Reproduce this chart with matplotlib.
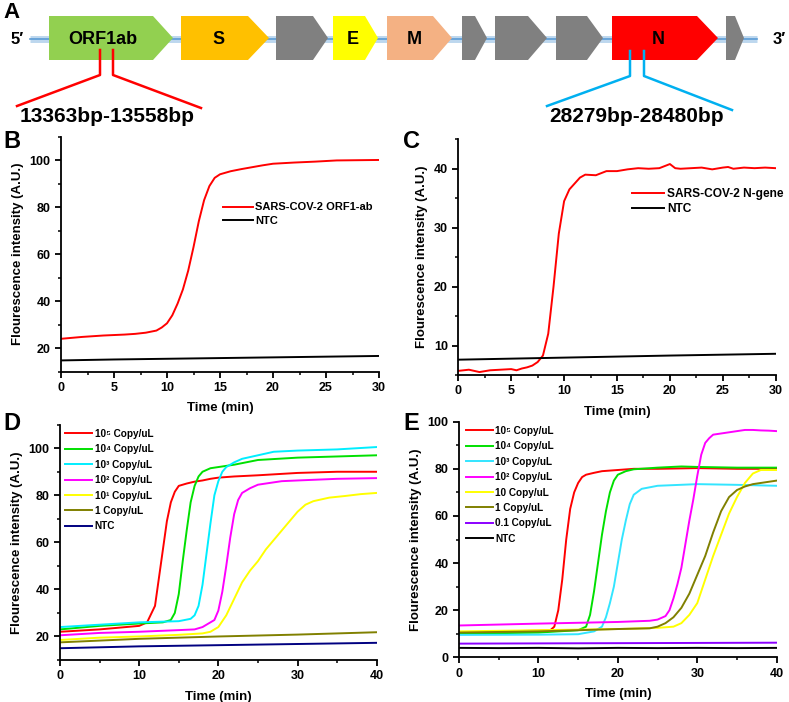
import numpy as np
import matplotlib.pyplot as plt
from matplotlib.patches import Polygon
from matplotlib.ticker import MultipleLocator

plt.rcParams['font.family'] = ['Liberation Sans', 'DejaVu Sans']
plt.rcParams['font.weight'] = 'bold'

# ---- panel A: genome map (x in px along the strip) ----
gene_names = ['ORF1ab', 'S', '', 'E', 'M', '', '', '', 'N', '']
gene_start = [49, 181, 276, 333, 387, 462, 495, 556, 612, 726]
gene_body = [153, 248, 313, 365, 433, 475, 528, 587, 697, 735]
gene_end = [173, 269, 328, 378, 452, 487, 547, 603, 718, 744]
gene_colors = ['#92D050', '#FFC000', '#808080', '#FFFF00', '#F4B183',
               '#808080', '#808080', '#808080', '#FF0000', '#808080']
orf_region = '13363bp-13558bp'
n_region = '28279bp-28480bp'

# ---- panel B ----
tB = [0, 1, 2, 3, 4, 5, 6, 7, 8, 9, 9.5, 10, 10.5, 11, 11.5, 12, 12.5, 13, 13.5,
      14, 14.5, 15, 16, 17, 18, 19, 20, 22, 24, 26, 28, 30]
orf1ab = [24, 24.4, 24.8, 25.1, 25.4, 25.6, 25.8, 26.1, 26.6, 27.5, 28.8, 30.6, 34,
          39, 45, 53, 63, 74, 83, 89, 92.5, 94, 95.3, 96.2, 97, 97.8, 98.5, 99,
          99.4, 99.9, 100, 100.1]
tB_ntc = [0, 5, 10, 15, 20, 25, 30]
ntcB = [14.8, 15.2, 15.5, 15.8, 16.1, 16.4, 16.7]

# ---- panel C ----
tC = [0, 1, 2, 3, 4, 5, 5.5, 6, 6.5, 7, 7.5, 8, 8.5, 9, 9.5, 10, 10.5, 11, 11.5,
      12, 13, 14, 15, 16, 17, 18, 19, 20, 20.5, 21, 22, 23, 24, 25, 25.5, 26, 27,
      28, 29, 30]
ngene = [5.7, 5.9, 5.5, 5.8, 5.9, 6.0, 5.8, 6.1, 6.3, 6.6, 7.2, 8.3, 12, 20, 29,
         34.5, 36.5, 37.5, 38.5, 39, 38.9, 39.6, 39.6, 39.9, 40.1, 40, 40.1, 40.8,
         40.1, 40, 40.1, 40.2, 39.9, 40.2, 40.3, 40, 40.2, 40.1, 40.2, 40.1]
tC_ntc = [0, 10, 20, 30]
ntcC = [7.6, 7.95, 8.3, 8.6]

# ---- panel D ----
d_labels = ['10⁵ Copy/uL', '10⁴ Copy/uL', '10³ Copy/uL', '10² Copy/uL',
            '10¹ Copy/uL', '1 Copy/uL', 'NTC']
d_colors = ['#FF0000', '#00E000', '#00EEFF', '#FF00FF', '#FFFF00', '#808000', '#000080']
d_t = [
    [0, 5, 10, 11, 12, 12.5, 13, 13.5, 14, 14.5, 15, 16, 17, 18, 19, 20, 22, 25, 30, 35, 40],
    [0, 5, 10, 13, 14, 14.5, 15, 15.5, 16, 16.5, 17, 17.5, 18, 19, 20, 22, 25, 30, 35, 40],
    [0, 5, 10, 15, 16.5, 17, 17.5, 18, 18.5, 19, 19.5, 20, 20.5, 21, 22, 23, 25, 27, 30, 35, 40],
    [0, 5, 10, 15, 17, 18, 19, 19.5, 20, 20.5, 21, 21.5, 22, 22.5, 23, 24, 25, 26, 28, 30, 35, 40],
    [0, 5, 10, 15, 18, 19, 20, 21, 22, 23, 24, 25, 26, 27, 28, 29, 30, 31, 32, 34, 36, 38, 40],
    [0, 10, 20, 30, 40],
    [0, 10, 20, 30, 40],
]
d_y = [
    [22, 23, 24.5, 26, 33, 45, 57, 69, 77, 81.5, 84, 85, 85.8, 86.3, 87, 87.5, 88, 88.5, 89.5, 90, 90],
    [23, 24.5, 25.5, 26, 27, 30, 38, 52, 65, 77, 84, 88, 90, 91.5, 92, 93, 95, 96, 96.5, 97],
    [24, 25, 26, 26.5, 27.5, 29, 33, 42, 55, 68, 80, 86, 90, 92, 94, 95.5, 97, 98.5, 99, 99.5, 100.5],
    [20.5, 21.5, 22, 22.7, 23, 24, 26, 27, 31, 39, 50, 62, 72, 78, 81, 83, 84.5, 85, 86, 86.3, 87, 87.3],
    [18.5, 19.5, 20, 20.7, 21.3, 22, 24, 29, 36, 43, 48, 52, 57, 61, 65, 69, 73, 76, 77.5, 79,
     79.7, 80.5, 81],
    [17.5, 19, 20, 20.8, 21.8],
    [15, 15.8, 16.3, 16.8, 17.3],
]

# ---- panel E ----
e_labels = ['10⁵ Copy/uL', '10⁴ Copy/uL', '10³ Copy/uL', '10² Copy/uL',
            '10 Copy/uL', '1 Copy/uL', '0.1 Copy/uL', 'NTC']
e_colors = ['#FF0000', '#00E000', '#33E5FF', '#FF00FF', '#FFFF00', '#808000', '#8B00FF', '#000000']
e_t = [
    [0, 5, 10, 11.5, 12, 12.5, 13, 13.5, 14, 14.5, 15, 15.5, 16, 17, 18, 20, 22, 25, 30, 35, 40],
    [0, 10, 15, 16, 16.5, 17, 17.5, 18, 18.5, 19, 19.5, 20, 21, 22, 25, 28, 30, 35, 40],
    [0, 10, 15, 17, 18, 18.5, 19, 19.5, 20, 20.5, 21, 21.5, 22, 23, 25, 30, 35, 40],
    [0, 10, 20, 24, 25, 26, 26.5, 27, 27.5, 28, 28.5, 29, 29.5, 30, 30.5, 31, 31.5, 32, 33, 35,
     36, 37, 38, 39, 40],
    [0, 10, 20, 25, 27, 28, 29, 30, 31, 32, 33, 34, 35, 36, 37, 38, 39, 40],
    [0, 10, 20, 24, 25, 26, 27, 28, 29, 30, 31, 32, 33, 34, 35, 36, 37, 38, 39, 40],
    [0, 10, 20, 30, 40],
    [0, 5, 10, 15, 20, 25, 30, 35, 40],
]
e_y = [
    [10.5, 11, 11.3, 11.5, 13, 20, 33, 50, 63, 70, 74, 76.5, 77.5, 78.3, 79, 79.5, 80, 80, 80.3, 80, 80],
    [10, 10.5, 11.5, 13, 18, 28, 40, 52, 62, 70, 75, 77.5, 79, 79.8, 80.5, 81, 80.8, 80.5, 80.5],
    [9.5, 9.6, 9.8, 11, 13, 17, 23, 30, 40, 50, 58, 65, 69, 71.5, 72.8, 73.5, 73.2, 72.8],
    [13.5, 14.3, 15, 15.5, 16, 17.5, 20, 25, 31, 38, 48, 58, 67, 77, 86, 91, 93, 94.5, 95, 96,
     96.5, 96.5, 96.3, 96.2, 96],
    [11, 11.5, 12, 12.5, 13, 14.5, 18, 23, 33, 43, 52, 61, 68, 74, 78, 79.5, 79.5, 79.5],
    [10.5, 11, 12, 12.3, 13, 14.5, 17, 21, 27, 35, 43, 53, 62, 68, 71, 72.5, 73.5, 74, 74.5, 75],
    [5.8, 5.9, 6.0, 6.1, 6.2],
    [4, 3.9, 4, 3.8, 4, 3.9, 4, 3.9, 4],
]

fig = plt.figure(figsize=(7.89, 7.02), dpi=100)
W, H = 789, 702

# panel A drawn in pixel coordinates
axA = fig.add_axes([0, 1 - 130 / H, 1, 130 / H])
axA.set_xlim(0, W)
axA.set_ylim(130, 0)
axA.axis('off')
axA.plot([30, 757], [39, 39], color='#BDD7EE', lw=5, solid_capstyle='butt', zorder=1)
axA.plot([30, 757], [39, 39], color='#5B9BD5', lw=1.2, zorder=1)
for name, x0, xb, x1, c in zip(gene_names, gene_start, gene_body, gene_end, gene_colors):
    poly = Polygon([(x0, 16), (xb, 16), (x1, 38), (xb, 60), (x0, 60)],
                   closed=True, facecolor=c, edgecolor='none', zorder=2)
    axA.add_patch(poly)
    if name:
        axA.text((x0 + xb) / 2 + (4 if name != 'ORF1ab' else 2), 39, name, ha='center',
                 va='center', fontsize=13, fontweight='bold', zorder=3)
axA.text(17, 39, '5′', ha='center', va='center', fontsize=12, fontweight='bold')
axA.text(779, 39, '3′', ha='center', va='center', fontsize=12, fontweight='bold')
axA.text(12, 12, 'A', ha='center', va='center', fontsize=16, fontweight='bold')
axA.plot([100, 100, 17, None, 113, 113, 201], [50, 75, 106, None, 50, 75, 108],
         color='#FF0000', lw=1.8, zorder=3)
axA.plot([630, 630, 547, None, 644, 644, 732], [51, 76, 106, None, 51, 76, 110],
         color='#00B0F0', lw=1.8, zorder=3)
axA.text(107, 116, orf_region, ha='center', va='center', fontsize=15, fontweight='bold')
axA.text(637, 116, n_region, ha='center', va='center', fontsize=15, fontweight='bold')


def make_axes(l, r, t, b):
    return fig.add_axes([l / W, 1 - b / H, (r - l) / W, (b - t) / H])


def style(ax, xlim, ylim, xmaj, xmin, ymaj, ymin):
    ax.set_xlim(*xlim)
    ax.set_ylim(*ylim)
    ax.xaxis.set_major_locator(MultipleLocator(xmaj))
    ax.xaxis.set_minor_locator(MultipleLocator(xmin))
    ax.yaxis.set_major_locator(MultipleLocator(ymaj))
    ax.yaxis.set_minor_locator(MultipleLocator(ymin))
    for s in ['top', 'right']:
        ax.spines[s].set_visible(False)
    for s in ['left', 'bottom']:
        ax.spines[s].set_linewidth(1.3)
    ax.tick_params(which='major', direction='out', length=4, width=1.3, labelsize=9)
    ax.tick_params(which='minor', direction='out', length=2.5, width=1.1)
    for lab in ax.get_xticklabels() + ax.get_yticklabels():
        lab.set_fontweight('bold')
    ax.set_xlabel('Time (min)', fontsize=9.5, fontweight='bold', labelpad=6)
    ax.set_ylabel('Flourescence intensity (A.U.)', fontsize=9.5, fontweight='bold', labelpad=4)


def add_legend(ax, x, y, size, spacing):
    ax.legend(loc='upper left', bbox_to_anchor=(x, y), frameon=False, fontsize=size,
              handlelength=2.7, handletextpad=0.25, labelspacing=spacing,
              borderpad=0, borderaxespad=0)


# panel B
axB = make_axes(61, 379, 136.7, 371.7)
axB.plot(tB, orf1ab, color='#FF0000', lw=1.4, label='SARS-COV-2 ORF1-ab')
axB.plot(tB_ntc, ntcB, color='#000000', lw=1.4, label='NTC')
style(axB, (0, 30), (10, 110), 5, 2.5, 20, 10)
add_legend(axB, 0.508, 0.720, 8.0, 0.27)
fig.text(12 / W, 1 - 141 / H, 'B', ha='center', va='center', fontsize=17, fontweight='bold')

# panel C
axC = make_axes(458.3, 775.7, 139.3, 375)
axC.plot(tC, ngene, color='#FF0000', lw=1.4, label='SARS-COV-2 N-gene')
axC.plot(tC_ntc, ntcC, color='#000000', lw=1.4, label='NTC')
style(axC, (0, 30), (5, 45), 5, 2.5, 10, 5)
add_legend(axC, 0.546, 0.794, 8.6, 0.25)
fig.text(412 / W, 1 - 142 / H, 'C', ha='center', va='center', fontsize=17, fontweight='bold')

# panel D
axD = make_axes(60, 376.7, 424.7, 660)
for t, y, c, lab in zip(d_t, d_y, d_colors, d_labels):
    axD.plot(t, y, color=c, lw=1.4, label=lab)
style(axD, (0, 40), (10, 110), 10, 5, 20, 10)
add_legend(axD, 0.016, 0.982, 7.2, 0.54)
fig.text(12 / W, 1 - 423 / H, 'D', ha='center', va='center', fontsize=17, fontweight='bold')

# panel E
axE = make_axes(459, 776.7, 421.7, 657.3)
for t, y, c, lab in zip(e_t, e_y, e_colors, e_labels):
    axE.plot(t, y, color=c, lw=1.4, label=lab)
style(axE, (0, 40), (0, 100), 10, 5, 20, 10)
add_legend(axE, 0.021, 0.982, 7.2, 0.54)
fig.text(411 / W, 1 - 424 / H, 'E', ha='center', va='center', fontsize=17, fontweight='bold')

fig.savefig('out.png', dpi=100)
